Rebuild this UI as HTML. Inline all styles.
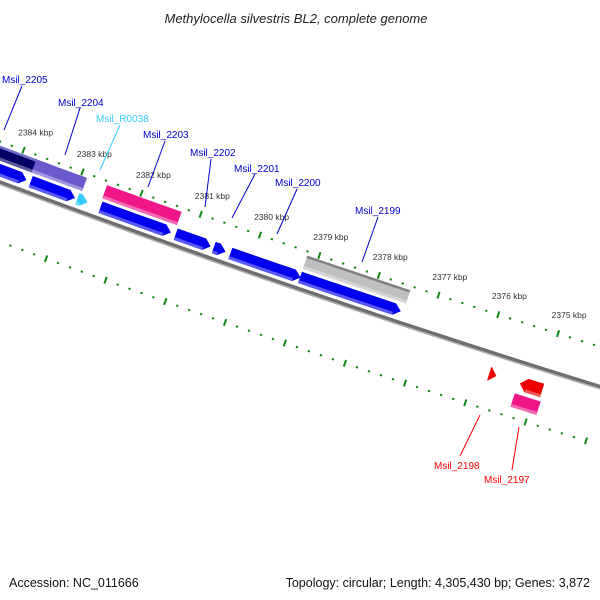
<!DOCTYPE html>
<html><head><meta charset="utf-8"><style>
html,body{margin:0;padding:0;background:#fff;}
svg{display:block;font-family:"Liberation Sans",sans-serif;}
</style></head><body>
<svg id="map" width="600" height="600" viewBox="0 0 600 600" xmlns="http://www.w3.org/2000/svg">
<rect width="600" height="600" fill="#fff"/>
<text x="296" y="23" text-anchor="middle" font-size="13" font-style="italic" fill="#222">Methylocella silvestris BL2, complete genome</text>
<g id="ticks"></g>
<g id="backbone"></g>
<g id="genes"></g>
<g id="labels" font-size="10">
<line x1="22" y1="86" x2="4" y2="130" stroke="#0000cc"/>
<text x="2" y="83" fill="#0000cc">Msil_2205</text>
<line x1="80" y1="108" x2="65" y2="155" stroke="#0000cc"/>
<text x="58" y="106" fill="#0000cc">Msil_2204</text>
<line x1="120" y1="125" x2="100" y2="170" stroke="#33ccff"/>
<text x="96" y="122" fill="#33ccff">Msil_R0038</text>
<line x1="165" y1="141" x2="148" y2="187" stroke="#0000cc"/>
<text x="143" y="138" fill="#0000cc">Msil_2203</text>
<line x1="211" y1="159" x2="205" y2="207" stroke="#0000cc"/>
<text x="190" y="156" fill="#0000cc">Msil_2202</text>
<line x1="255" y1="174" x2="232" y2="218" stroke="#0000cc"/>
<text x="234" y="172" fill="#0000cc">Msil_2201</text>
<line x1="297" y1="189" x2="277" y2="234" stroke="#0000cc"/>
<text x="275" y="186" fill="#0000cc">Msil_2200</text>
<line x1="378" y1="217" x2="362" y2="262" stroke="#0000cc"/>
<text x="355" y="214" fill="#0000cc">Msil_2199</text>
<line x1="480" y1="415" x2="460" y2="456" stroke="#ff0000"/>
<text x="434" y="469" fill="#ff0000">Msil_2198</text>
<line x1="519" y1="427" x2="512" y2="470" stroke="#ff0000"/>
<text x="484" y="483" fill="#ff0000">Msil_2197</text>
</g>
<text x="9" y="587" font-size="12.5" fill="#111">Accession: NC_011666</text>
<text x="590" y="587" font-size="12.5" fill="#111" text-anchor="end">Topology: circular; Length: 4,305,430 bp; Genes: 3,872</text>
</svg>
<script>
// ---- data ----
const geneNames = ["Msil_2205a","Msil_2205","Msil_2204","Msil_2204b","Msil_R0038","Msil_2203","Msil_2203b","Msil_2202","Msil_2201x","Msil_2201","Msil_2200","Msil_2199","Msil_2199b","Msil_next","Msil_2198","Msil_2197","Msil_2197b"];
const geneStarts = [2386.2,2385.8,2383.72,2383.76,2382.93,2382.54,2382.56,2381.27,2380.63,2380.35,2379.18,2379.18,2374.12,2372.5,2375.85,2374.97,2375.37];
const geneEnds   = [2383.72,2383.79,2382.97,2382.90,2382.76,2381.35,2381.30,2380.68,2380.43,2379.17,2377.49,2377.45,2373.4,2373.5,2375.73,2375.34,2374.94];
const geneLanes  = ["up","blue","blue","up","blue","blue","up","blue","blue","blue","blue","up","blue","none","red","red","pink"];
const geneColors = ["#000066","#0000ee","#0000ee","#6a5acd","#33ccff","#0000ee","#f0168a","#0000ee","#0000ee","#0000ee","#0000ee","#c0c0c0","#0000ee","#0000ee","#ee0000","#ee0000","#f0168a"];
const geneArrows = [false,true,true,false,true,true,false,true,true,true,true,false,true,true,true,true,false];
const majorKbp = [2374,2375,2376,2377,2378,2379,2380,2381,2382,2383,2384,2385,2386];
const tickLabels = ["2374 kbp","2375 kbp","2376 kbp","2377 kbp","2378 kbp","2379 kbp","2380 kbp","2381 kbp","2382 kbp","2383 kbp","2384 kbp","2385 kbp","2386 kbp"];
const innerTickOffset = 0.07;

// ---- geometry (axis functions) ----
const CX=3915, CY=-10320, A0=109.1, K0=2380, DA=0.3221;
const R_TICK=11170, R_BACK=11208, R_INNER=11264;
const LANES={up:[11174,11188],blue:[11191,11203],red:[11222,11236],pink:[11240,11254]};
function P(k,r){const a=(A0+(k-K0)*DA)*Math.PI/180;return [CX+r*Math.cos(a),CY+r*Math.sin(a)];}
function arcPts(k1,k2,r,n){const o=[];for(let i=0;i<=n;i++){o.push(P(k1+(k2-k1)*i/n,r));}return o;}
function pstr(a){return a.map(p=>p[0].toFixed(2)+","+p[1].toFixed(2)).join(" ");}
const NS="http://www.w3.org/2000/svg";
function mk(t,parent){const e=document.createElementNS(NS,t);parent.appendChild(e);return e;}
function lighten(c,f){const n=parseInt(c.slice(1),16);let r=n>>16,g=(n>>8)&255,b=n&255;r=Math.round(r+(255-r)*f);g=Math.round(g+(255-g)*f);b=Math.round(b+(255-b)*f);return "rgb("+r+","+g+","+b+")";}

// ticks
const tg=document.getElementById('ticks');
function drawTicks(r,off,labels){
  for(let i=0;i<majorKbp.length-1;i++){
    for(let j=0;j<5;j++){
      const k=majorKbp[i]+off+j*0.2;
      const major=(j===0);
      const a=P(k,r-(major?3.5:1)), b=P(k,r+(major?3.5:1));
      const l=mk('line',tg);
      
      
      l.setAttribute('x1',a[0]);l.setAttribute('y1',a[1]);l.setAttribute('x2',b[0]);l.setAttribute('y2',b[1]);
      l.setAttribute('stroke','#118811');l.setAttribute('stroke-width',major?2:2.2);
    }
    if(labels){
      const p=P(majorKbp[i]-0.08,r-21);
      const t=mk('text',tg);
      
      
      t.setAttribute('x',p[0]);t.setAttribute('y',p[1]+3);t.setAttribute('text-anchor','middle');
      t.setAttribute('font-size','8.5');t.setAttribute('fill','#333');
      t.textContent=tickLabels[i];
    }
  }
}
drawTicks(R_TICK,0,true);
drawTicks(R_INNER,innerTickOffset,false);

// backbone
const bg=document.getElementById('backbone');
const b1=mk('polyline',bg);


b1.setAttribute('points',pstr(arcPts(2387,2372,R_BACK,30)));b1.setAttribute('fill','none');b1.setAttribute('stroke','#6e6e6e');b1.setAttribute('stroke-width','3.5');
const b2=mk('polyline',bg);


b2.setAttribute('points',pstr(arcPts(2387,2372,R_BACK+2.3,30)));b2.setAttribute('fill','none');b2.setAttribute('stroke','#b0b0b0');b2.setAttribute('stroke-width','1.5');

// genes
const gg=document.getElementById('genes');
const HEAD=0.11;
for(let i=0;i<geneNames.length;i++){
  const lane=LANES[geneLanes[i]]; if(!lane) continue;
  const k1=geneStarts[i],k2=geneEnds[i],c=geneColors[i];
  const dir=Math.sign(k2-k1);
  const [ra,rb]=lane, rm=(ra+rb)/2;
  let pts;
  let kb=k2;
  if(geneArrows[i]){
    const len=Math.abs(k2-k1);
    const h=Math.min(HEAD,len);
    kb=k2-dir*h;
    pts=arcPts(k1,kb,ra,8).concat([P(k2,rm)]).concat(arcPts(kb,k1,rb,8));
  } else {
    pts=arcPts(k1,k2,ra,8).concat(arcPts(k2,k1,rb,8));
  }
  const g=mk('polygon',gg);
  
  
  g.setAttribute('points',pstr(pts));g.setAttribute('fill',c);
  if(Math.abs(kb-k1)>0.02){
    const s=mk('polygon',gg);
    
    
    s.setAttribute('points',pstr(arcPts(k1,kb,rb-3,6).concat(arcPts(kb,k1,rb,6))));
    s.setAttribute('fill',lighten(c,0.35));
    if(c==="#c0c0c0"||c==="#000066"){
      const tp=mk('polygon',gg);
      
      
      tp.setAttribute('points',pstr(arcPts(k1,kb,ra,6).concat(arcPts(kb,k1,ra+2.5,6))));
      tp.setAttribute('fill',c==="#c0c0c0"?"#808080":"#7070cc");
    }
  }
}
</script>
</body></html>
